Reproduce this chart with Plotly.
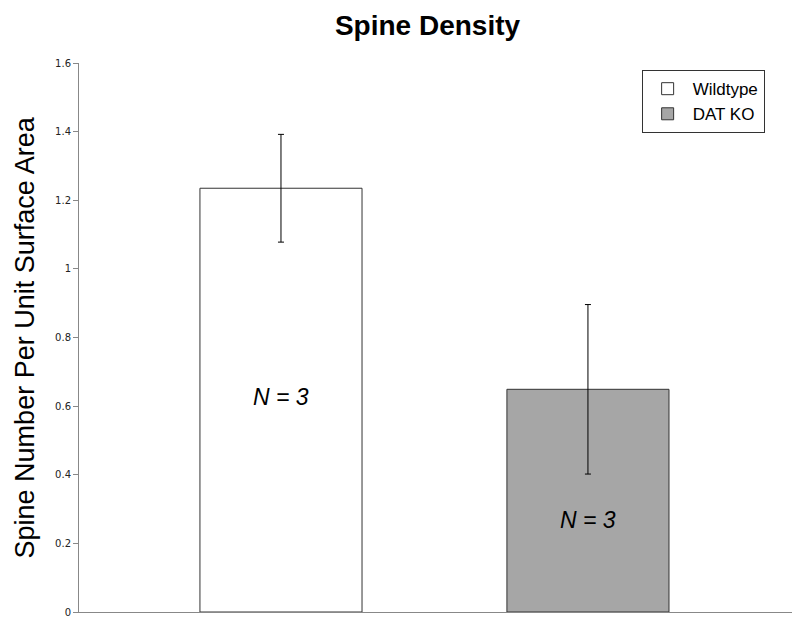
import plotly.graph_objects as go

series = ["Wildtype", "DAT KO"]
means = [1.235, 0.649]
errors = [0.157, 0.247]
n_labels = ["<i>N = 3</i>", "<i>N = 3</i>"]
n_label_y = [0.627, 0.268]
fills = ["#ffffff", "#a6a6a6"]
positions = [0, 1]
y_ticks = [0, 0.2, 0.4, 0.6, 0.8, 1.0, 1.2, 1.4, 1.6]
y_tick_text = ["0", "0.2", "0.4", "0.6", "0.8", "1", "1.2", "1.4", "1.6"]

# the page body has an 8px default margin; figure is sized to fit the window
W, H = 792, 621

fig = go.Figure()
for name, pos, m, e, c in zip(series, positions, means, errors, fills):
    fig.add_trace(go.Bar(
        x=[pos], y=[m], name=name, width=0.528,
        marker=dict(color=c, line=dict(color="#333333", width=1)),
        error_y=dict(type="data", array=[e], color="#000000", thickness=1, width=3),
    ))

for pos, t, yy in zip(positions, n_labels, n_label_y):
    fig.add_annotation(x=pos, y=yy, text=t, showarrow=False,
                       font=dict(family="Liberation Sans, Arial", size=23, color="#000"))

fig.add_annotation(xref="paper", yref="paper", x=-0.0757, y=0.5,
                   xanchor="center", yanchor="middle",
                   text="Spine Number Per Unit Surface Area", textangle=-90,
                   showarrow=False,
                   font=dict(family="Liberation Sans, Arial", size=27, color="#000"))

fig.update_layout(
    width=W, height=H,
    margin=dict(l=71, r=7, t=55, b=17),
    plot_bgcolor="white", paper_bgcolor="white",
    title=dict(text="<b>Spine Density</b>", x=419.5 / W, xanchor="center",
               y=1 - 7 / H, yanchor="top", yref="container",
               font=dict(family="Liberation Sans, Arial", size=28, color="#000")),
    showlegend=True,
    legend=dict(x=0.788, y=0.987, xanchor="left", yanchor="top",
                bordercolor="#333333", borderwidth=1, bgcolor="white",
                font=dict(family="Liberation Sans, Arial", size=17, color="#000"),
                itemwidth=40),
    xaxis=dict(range=[-0.658, 1.668], showticklabels=False, showgrid=False,
               zeroline=False, showline=True, linecolor="#888888", linewidth=1,
               ticks=""),
    yaxis=dict(range=[0, 1.6], tickvals=y_ticks, ticktext=y_tick_text,
               showgrid=False, zeroline=False, showline=True,
               linecolor="#888888", linewidth=1, ticks="outside", ticklen=5,
               tickcolor="#888888",
               tickfont=dict(family="DejaVu Sans, Verdana", size=10, color="#222")),
)

fig.write_html("out.html")
